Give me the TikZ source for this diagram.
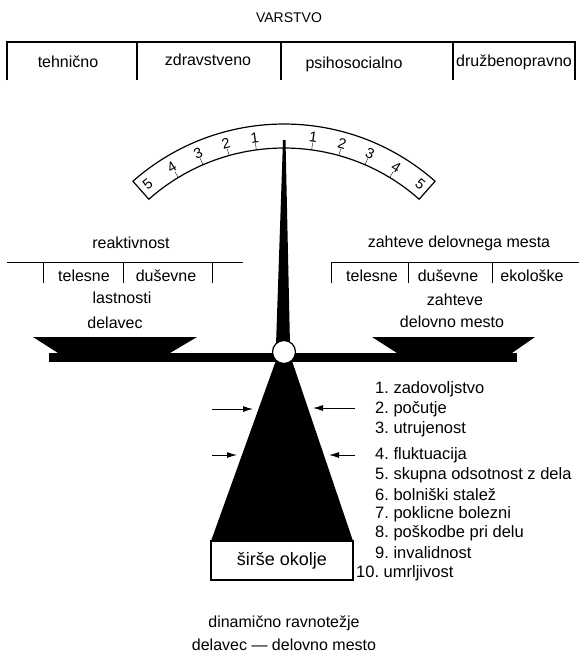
\documentclass[tikz,border=0pt]{standalone}
\usepackage{fontspec}
\setmainfont{Liberation Sans}
\usetikzlibrary{arrows.meta,calc}

\begin{document}
\begin{tikzpicture}[x=1pt,y=1pt,
 txt/.style={inner sep=0pt,font=\fontsize{16}{18}\selectfont},
 item/.style={inner sep=0pt,anchor=west,font=\fontsize{16.5}{18}\selectfont},
 num/.style={inner sep=0pt,font=\fontsize{14.5}{16}\selectfont},
 rule/.style={line width=1.1pt},
 arr/.style={-{Latex[length=10pt,width=6pt]},line width=1pt}]
\useasboundingbox (0,0) rectangle (579,-654);
% top table
\node[txt,font=\fontsize{14}{16}\selectfont] (varstvo) at (289,-18) {VARSTVO};
\draw[rule] (7,-80) |- (575,-42) -- (575,-80);
\foreach \x in {137,281,453} \draw[rule] (\x,-42) -- (\x,-80);
\node[txt] (teh) at (68,-62) {tehnično};
\node[txt] (zdr) at (208,-60) {zdravstveno};
\node[txt] (psi) at (354,-64) {psihosocialno};
\node[txt] (dru) at (514,-62) {družbenopravno};
% dial
\coordinate (piv) at (284,-352);
\draw[line width=1.2pt] ($(piv)+(131.5:228)$) arc[start angle=131.5,end angle=48.5,radius=228]
 -- ($(piv)+(48.5:204)$) arc[start angle=48.5,end angle=131.5,radius=204] -- cycle;
\foreach \k in {1,...,4}{
 \draw ($(piv)+({90+7.8*\k}:204)$) -- ($(piv)+({90+7.8*\k}:211)$);
 \draw ($(piv)+({90-7.8*\k}:204)$) -- ($(piv)+({90-7.8*\k}:211)$);}
\foreach \k in {1,...,5}{
 \node[num,rotate=7.8*\k] (nl\k) at ($(piv)+({90+7.8*\k}:216.5)$) {\k};
 \node[num,rotate=-7.8*\k] (nr\k) at ($(piv)+({90-7.8*\k}:216.5)$) {\k};}
\fill (283,-140) -- (285.5,-140) -- (290,-345) -- (276,-345) -- cycle;
% left side
\node[txt] (reak) at (131,-243) {reaktivnost};
\draw (7,-262) -- (243,-262);
\foreach \x in {43,123,212} \draw (\x,-262) -- (\x,-283);
\node[txt] (telL) at (84,-276) {telesne};
\node[txt] (dusL) at (166,-276) {duševne};
\node[txt] (last) at (122,-298) {lastnosti};
\node[txt] (dela) at (115,-323) {delavec};
% right side
\node[txt] (zdm) at (459,-243) {zahteve delovnega mesta};
\draw (331,-283) |- (579,-262);
\foreach \x in {408,492} \draw (\x,-262) -- (\x,-283);
\node[txt] (telR) at (372,-276) {telesne};
\node[txt] (dusR) at (448,-276) {duševne};
\node[txt] (eko) at (532,-276) {ekološke};
\node[txt] (zah) at (455,-300) {zahteve};
\node[txt] (dm) at (452,-322) {delovno mesto};
% balance
\fill (49,-353) rectangle (517,-362);
\fill (33,-337) -- (197,-337) -- (170,-353) -- (58,-353) -- cycle;
\fill (372,-337) -- (535,-337) -- (512,-353) -- (397,-353) -- cycle;
\fill (279,-352) -- (289,-352) -- (353,-541) -- (211,-541) -- cycle;
\node[draw,line width=1.2pt,fill=white,minimum width=142,minimum height=39,inner sep=0pt,
 font=\fontsize{18}{20}\selectfont] (okolje) at (282,-560.5) {širše okolje};
\draw[line width=1.2pt,fill=white] (piv) circle[radius=11.5];
% arrows
\coordinate (l1) at (212,-409); \coordinate (l1t) at (253,-409);
\coordinate (l2) at (212,-455); \coordinate (l2t) at (237,-455);
\coordinate (r1) at (355,-408); \coordinate (r1t) at (313,-408);
\coordinate (r2) at (355,-455); \coordinate (r2t) at (329,-455);
\draw[arr] (l1) -- (l1t); \draw[arr] (l2) -- (l2t);
\draw[arr] (r1) -- (r1t); \draw[arr] (r2) -- (r2t);
% list
\foreach \k/\y/\t in {1/389/zadovoljstvo,2/409/počutje,3/429/utrujenost,4/455/fluktuacija,
 5/475/skupna odsotnost z dela,6/495/bolniški stalež,7/514/poklicne bolezni,
 8/533/poškodbe pri delu,9/553/invalidnost}
 \node[item] (it\k) at (375,-\y) {\k.~\t};
\node[item] (it10) at (356,-573) {10.~umrljivost};
% caption
\node[txt] (dyn) at (284,-623) {dinamično ravnotežje};
\node[txt] (dd) at (284,-645) {delavec --- delovno mesto};
\end{tikzpicture}
\end{document}
